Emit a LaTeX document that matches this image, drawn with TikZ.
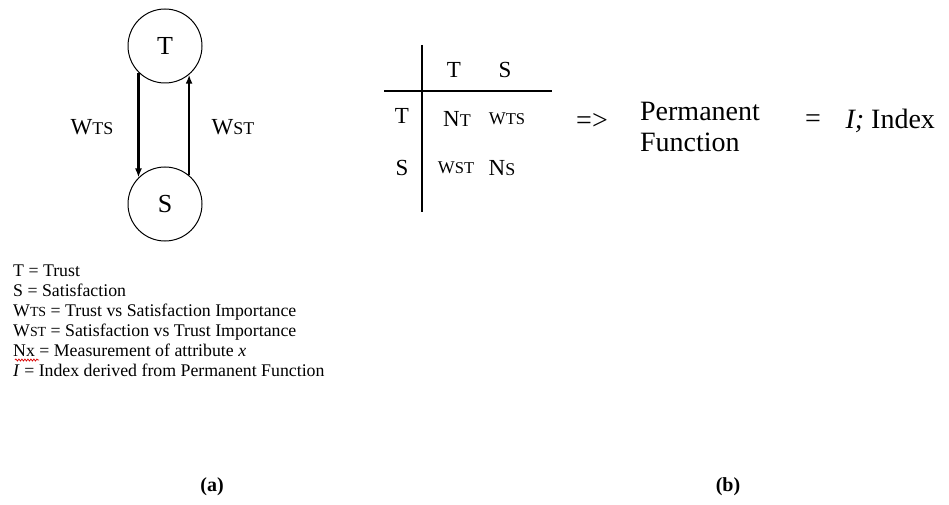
\documentclass[tikz,border=0pt]{standalone}
\usepackage{fontspec}
\setmainfont{Liberation Serif}
\usetikzlibrary{arrows.meta,decorations.pathmorphing}
\newcommand\smcp[1]{\scalebox{0.78}{#1}}
\tikzset{
  vert/.style={draw, circle, line width=1pt, minimum size=74pt, inner sep=0pt, font=\fontsize{26}{26}\selectfont},
  edge/.style={line width=2.6pt, -{Latex[length=9pt,width=7pt]}},
  wlabel/.style={font=\fontsize{23}{23}\selectfont},
  cell/.style={font=\fontsize{23}{23}\selectfont},
  big/.style={font=\fontsize{28}{28}\selectfont},
  legend/.style={anchor=base west, inner sep=0pt, font=\fontsize{17.8}{17.8}\selectfont},
  capt/.style={font=\fontsize{20}{20}\selectfont\bfseries},
  rule/.style={line width=1.2pt}
}
\begin{document}
\begin{tikzpicture}[x=1pt,y=-1pt]
\useasboundingbox (0,0) rectangle (949,505);
% (a) graph
\node[vert] (T) at (165,46) {T};
\node[vert] (S) at (165,204) {S};
\draw[edge] (T.225) -- (S.135);
\draw[edge] (S.50) -- (T.310);
\node[wlabel] (wts) at (92,127) {W\smcp{TS}};
\node[wlabel] (wst) at (233,127) {W\smcp{ST}};
% legend
\node[legend] (l1) at (13,276) {T = Trust};
\node[legend] (l2) at (13,296) {S = Satisfaction};
\node[legend] (l3) at (13,316) {W\smcp{TS} = Trust vs Satisfaction Importance};
\node[legend] (l4) at (13,336) {W\smcp{ST} = Satisfaction vs Trust Importance};
\node[legend] (l5) at (13,356) {Nx = Measurement of attribute \textit{x}};
\node[legend] (l6) at (13,376) {\textit{I} = Index derived from Permanent Function};
\coordinate (w1) at (15,360);
\coordinate (w2) at (39,360);
\draw[red!85!black, line width=0.7pt, decorate, decoration={snake, segment length=3pt, amplitude=1pt}] (w1) -- (w2);
% (b) table
\coordinate (vt) at (422,45);
\coordinate (vb) at (422,212);
\coordinate (hl) at (384,91);
\coordinate (hr) at (552,91);
\draw[rule] (vt) -- (vb);
\draw[rule] (hl) -- (hr);
\node[cell] (hT) at (454,70) {T};
\node[cell] (hS) at (505,70) {S};
\node[cell] (rT) at (402,116) {T};
\node[cell] (rS) at (402,168) {S};
\node[cell] (c11) at (457,119) {N\smcp{T}};
\node[cell] (c12) at (507,119) {\smcp{W}\scalebox{0.72}{TS}};
\node[cell] (c21) at (456,168) {\smcp{W}\scalebox{0.72}{ST}};
\node[cell] (c22) at (502,168) {N\smcp{S}};
% equation
\node[big] (impl) at (592,121) {=>};
\node[big, align=left, font=\fontsize{28}{31}\selectfont] (perm) at (700,127) {Permanent\\Function};
\node[big] (eq) at (813,121) {=};
\node[big, anchor=west] (idx) at (842,121) {\textit{I;} Index};
% captions
\node[capt] (ca) at (212,487) {(a)};
\node[capt] (cb) at (728,487) {(b)};
\end{tikzpicture}
\end{document}
